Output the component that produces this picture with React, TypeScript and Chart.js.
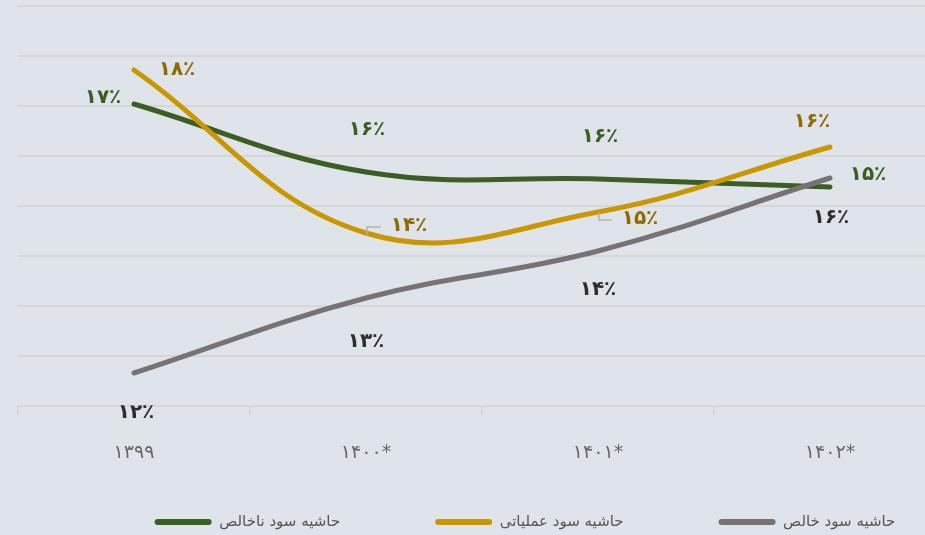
import React, { useEffect, useRef } from 'react';
import { Chart, registerables } from 'chart.js';

Chart.register(...registerables);

// ---- data ----
const categories = ['۱۳۹۹', '۱۴۰۰*', '۱۴۰۱*', '۱۴۰۲*'];
const seriesNames = ['حاشیه سود ناخالص', 'حاشیه سود عملیاتی', 'حاشیه سود خالص'];
const grossMargin = [17.04, 15.68, 15.54, 15.38];
const operatingMargin = [17.72, 14.46, 14.88, 16.18];
const netMargin = [11.66, 13.16, 14.1, 15.56];
const yMin = 11;
const yMax = 19;
const yStep = 1;

// ---- style ----
const FONT = '"DejaVu Sans", sans-serif';
const BG = '#dfe4ea';
const GRID = '#d5d7d9';
const lineColors = ['#3b5e23', '#c99700', '#777273'];
const labelColors = ['#3b5e23', '#8f6a00', '#2e2e2e'];
const drawOrder = [3, 2, 1];
// label offsets (px) from each point, per series
const labelOffsets = [
  [[-31, -6], [1, -42], [2, -42], [38, -12]],
  [[43, 0], [43, -7], [42, 7], [-18, -25]],
  [[2, 40], [0, 44], [0, 39], [1, 40]],
];
const labelLeaders = [
  [false, false, false, false],
  [false, true, true, false],
  [false, false, false, false],
];
const LEGEND_SHIFT_X = 43;
const LEGEND_HEIGHT = 70;
const LEGEND_SHIFT_Y = -50.5;
const X_AXIS_HEIGHT = 64;

const faDigits = '۰۱۲۳۴۵۶۷۸۹';
const toFa = (n: number) => String(n).replace(/[0-9]/g, (d) => faDigits[Number(d)]);

const pointLabelPlugin = {
  id: 'pointLabels',
  afterDatasetsDraw(chart: any) {
    const ctx = chart.ctx;
    chart.data.datasets.forEach((ds: any, di: number) => {
      const meta = chart.getDatasetMeta(di);
      meta.data.forEach((pt: any, i: number) => {
        const text = toFa(Math.round(ds.data[i])) + '٪';
        const [dx, dy] = labelOffsets[di][i];
        const x = pt.x + dx;
        const y = pt.y + dy;
        ctx.save();
        ctx.font = 'bold 20px ' + FONT;
        ctx.fillStyle = labelColors[di];
        ctx.textAlign = 'center';
        ctx.textBaseline = 'middle';
        ctx.fillText(text, x, y);
        if (labelLeaders[di][i]) {
          const w = ctx.measureText(text).width;
          ctx.strokeStyle = '#b3b3b3';
          ctx.lineWidth = 1.5;
          ctx.beginPath();
          ctx.moveTo(pt.x + 1, pt.y + (y < pt.y ? 2 : 1));
          ctx.lineTo(pt.x + 1, y + 1);
          ctx.lineTo(x - w / 2 - 10, y + 1);
          ctx.stroke();
        }
        ctx.restore();
      });
    });
  },
};

const legendLayoutPlugin = {
  id: 'legendLayout',
  afterInit(chart: any) {
    const lg = chart.legend;
    if (!lg || lg.__patched) return;
    const fit = lg.fit;
    lg.fit = function () {
      this.maxWidth = 3000;
      fit.call(this);
      this.height = LEGEND_HEIGHT;
    };
    lg.__patched = true;
  },
  afterLayout(chart: any) {
    const lg = chart.legend;
    if (!lg) return;
    lg.left += LEGEND_SHIFT_X - 400;
    lg.right += LEGEND_SHIFT_X + 400;
    lg.width = lg.right - lg.left;
    lg.top += LEGEND_SHIFT_Y;
    lg.bottom = chart.height;
    lg.height = lg.bottom - lg.top;
  },
};

export default function App() {
  const ref = useRef<HTMLCanvasElement | null>(null);

  useEffect(() => {
    document.body.style.margin = '0';
    document.body.style.overflow = 'hidden';
    document.body.style.background = BG;
    const canvas = ref.current;
    if (!canvas) return;
    const series = [grossMargin, operatingMargin, netMargin];
    const chart = new Chart(canvas, {
      type: 'line',
      data: {
        labels: categories,
        datasets: series.map((d, i) => ({
          label: seriesNames[i],
          data: d,
          borderColor: lineColors[i],
          backgroundColor: lineColors[i],
          borderWidth: 5,
          borderCapStyle: 'round',
          borderJoinStyle: 'round',
          pointRadius: 0,
          pointHoverRadius: 0,
          tension: 0.4,
          fill: false,
          order: drawOrder[i],
        })),
      },
      options: {
        responsive: false,
        animation: false,
        events: [],
        layout: { padding: { left: 18, right: 14, top: 6, bottom: 0 } },
        scales: {
          x: {
            type: 'category',
            offset: true,
            grid: {
              offset: true,
              drawOnChartArea: false,
              drawTicks: true,
              tickLength: 9,
              color: GRID,
              lineWidth: 2,
            },
            border: { display: true, color: GRID, width: 2 },
            ticks: {
              color: '#686868',
              font: { family: FONT, size: 19 },
              padding: 27,
              maxRotation: 0,
              autoSkip: false,
            },
            afterFit: (s: any) => {
              s.height = X_AXIS_HEIGHT;
            },
          },
          y: {
            min: yMin,
            max: yMax,
            ticks: { display: false, stepSize: yStep },
            grid: { color: GRID, lineWidth: 2, drawTicks: false },
            border: { display: false },
            afterFit: (s: any) => {
              s.width = 0;
            },
          },
        },
        plugins: {
          tooltip: { enabled: false },
          legend: {
            position: 'bottom',
            align: 'center',
            labels: {
              boxWidth: 57,
              boxHeight: 6,
              useBorderRadius: true,
              borderRadius: 3,
              padding: 95,
              color: '#555555',
              font: { family: FONT, size: 15 },
              sort: (a: any, b: any) => a.datasetIndex - b.datasetIndex,
              generateLabels: (c: any) =>
                (Chart.defaults.plugins.legend.labels.generateLabels as any)(c).map((it: any) => ({
                  ...it,
                  lineWidth: 0,
                  strokeStyle: 'rgba(0,0,0,0)',
                })),
            },
          },
        },
      },
      plugins: [pointLabelPlugin, legendLayoutPlugin],
    } as any);
    return () => chart.destroy();
  }, []);

  return (
    <div style={{ width: 960, height: 540, background: BG }}>
      <canvas ref={ref} width={960} height={540} style={{ display: 'block' }} />
    </div>
  );
}
